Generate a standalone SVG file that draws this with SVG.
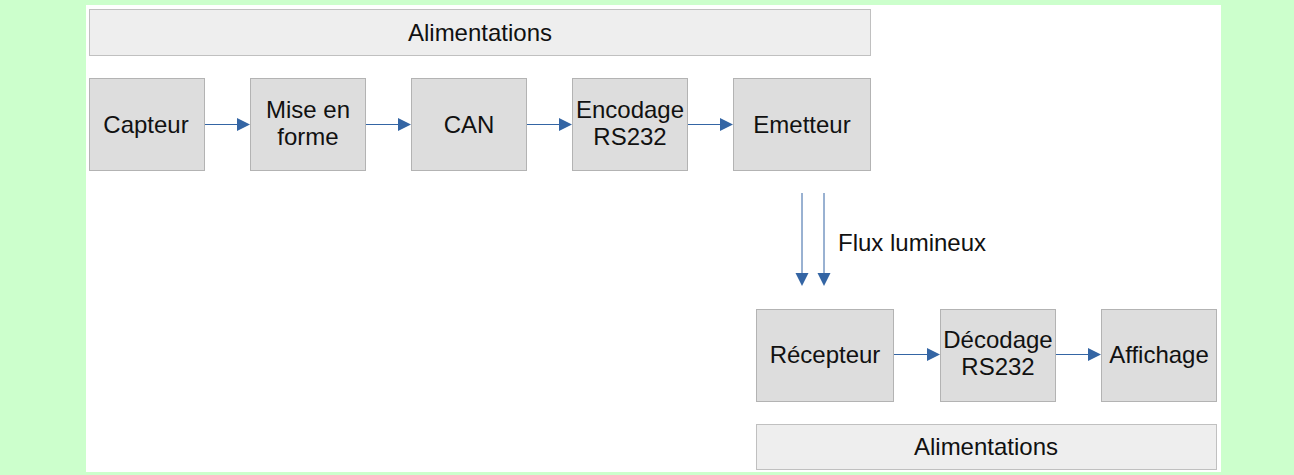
<svg xmlns="http://www.w3.org/2000/svg" width="1294" height="475" viewBox="0 0 1294 475">
  <style>
    .bar { fill: #eeeeee; stroke: #c0c0c0; stroke-width: 1; }
    .box { fill: #dddddd; stroke: #b3b3b3; stroke-width: 1; }
    .lbl { font-family: "Liberation Sans", Arial, sans-serif; font-size: 24px; fill: #111111; text-anchor: middle; }
    .note { font-family: "Liberation Sans", Arial, sans-serif; font-size: 24px; fill: #111111; }
    .wire { stroke: #3465a4; stroke-width: 1; fill: none; }
    .head { fill: #3465a4; }
  </style>

  <!-- page background -->
  <rect x="0" y="0" width="1294" height="475" fill="#ccffcc"/>
  <rect x="86" y="5" width="1135" height="467" fill="#ffffff"/>

  <!-- emitter side -->
  <g id="alim-top">
    <rect class="bar" x="89.5" y="9.5" width="781" height="46"/>
    <text class="lbl" x="480" y="41">Alimentations</text>
  </g>
  <g id="capteur">
    <rect class="box" x="89.5" y="78.5" width="115" height="92"/>
    <text class="lbl" x="146" y="133">Capteur</text>
  </g>
  <g id="mise-en-forme">
    <rect class="box" x="250.5" y="78.5" width="115" height="92"/>
    <text class="lbl" x="308" y="118">Mise en</text>
    <text class="lbl" x="308" y="145">forme</text>
  </g>
  <g id="can">
    <rect class="box" x="411.5" y="78.5" width="115" height="92"/>
    <text class="lbl" x="469" y="133">CAN</text>
  </g>
  <g id="encodage">
    <rect class="box" x="572.5" y="78.5" width="115" height="92"/>
    <text class="lbl" x="630" y="118">Encodage</text>
    <text class="lbl" x="630" y="145">RS232</text>
  </g>
  <g id="emetteur">
    <rect class="box" x="733.5" y="78.5" width="137" height="92"/>
    <text class="lbl" x="802" y="133">Emetteur</text>
  </g>

  <!-- receiver side -->
  <g id="recepteur">
    <rect class="box" x="756.5" y="309.5" width="137" height="92"/>
    <text class="lbl" x="825" y="363">Récepteur</text>
  </g>
  <g id="decodage">
    <rect class="box" x="940.5" y="309.5" width="115" height="92"/>
    <text class="lbl" x="998" y="348">Décodage</text>
    <text class="lbl" x="998" y="375">RS232</text>
  </g>
  <g id="affichage">
    <rect class="box" x="1101.5" y="309.5" width="115" height="92"/>
    <text class="lbl" x="1159" y="363">Affichage</text>
  </g>
  <g id="alim-bottom">
    <rect class="bar" x="756.5" y="424.5" width="460" height="45"/>
    <text class="lbl" x="986" y="455">Alimentations</text>
  </g>

  <!-- connectors -->
  <g id="connectors">
    <line class="wire" x1="205" y1="124.5" x2="238" y2="124.5"/>
    <polygon class="head" points="250,124.5 237,118 237,131"/>
    <line class="wire" x1="366" y1="124.5" x2="399" y2="124.5"/>
    <polygon class="head" points="411,124.5 398,118 398,131"/>
    <line class="wire" x1="527" y1="124.5" x2="560" y2="124.5"/>
    <polygon class="head" points="572,124.5 559,118 559,131"/>
    <line class="wire" x1="688" y1="124.5" x2="721" y2="124.5"/>
    <polygon class="head" points="733,124.5 720,118 720,131"/>

    <line class="wire" x1="802" y1="193" x2="802" y2="274"/>
    <polygon class="head" points="802,286 795.5,273 808.5,273"/>
    <line class="wire" x1="824" y1="193" x2="824" y2="274"/>
    <polygon class="head" points="824,286 817.5,273 830.5,273"/>
    <text class="note" x="838" y="251">Flux lumineux</text>

    <line class="wire" x1="894" y1="354.5" x2="928" y2="354.5"/>
    <polygon class="head" points="940,354.5 927,348 927,361"/>
    <line class="wire" x1="1056" y1="354.5" x2="1089" y2="354.5"/>
    <polygon class="head" points="1101,354.5 1088,348 1088,361"/>
  </g>
</svg>
